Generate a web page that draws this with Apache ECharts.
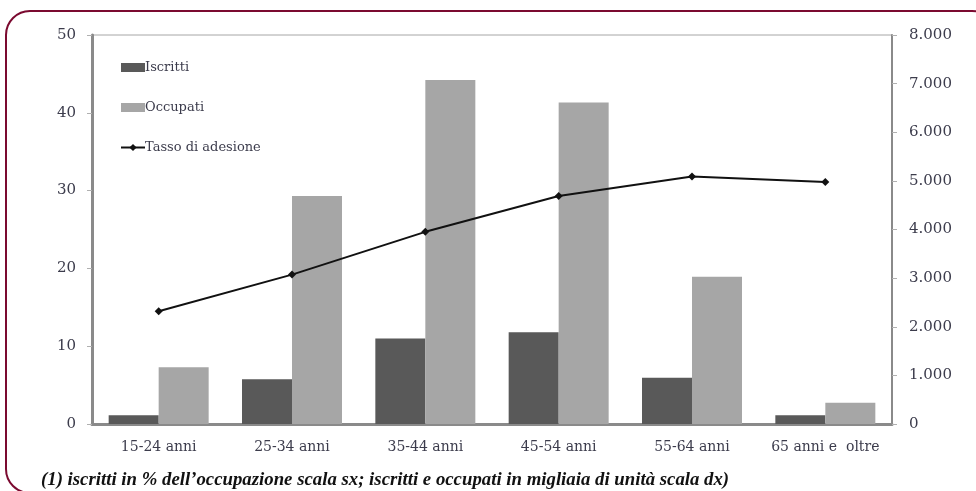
<!DOCTYPE html>
<html>
<head>
<meta charset="utf-8">
<script src="https://cdn.jsdelivr.net/npm/echarts@6/dist/echarts.min.js"></script>
<style>html,body{margin:0;padding:0;background:#fff}#c{width:976px;height:491px}</style>
</head>
<body>
<div id="c"></div>
<script>
const categories = ['15-24 anni', '25-34 anni', '35-44 anni', '45-54 anni', '55-64 anni', '65 anni e  oltre'];
const iscritti = [180, 920, 1760, 1885, 950, 180];
const occupati = [1165, 4690, 7075, 6610, 3030, 435];
const tasso = [14.5, 19.2, 24.7, 29.3, 31.8, 31.1];
const leftTicks = [0, 10, 20, 30, 40, 50];
const rightTicks = [0, 1000, 2000, 3000, 4000, 5000, 6000, 7000, 8000];
const footnote = '(1) iscritti in % dell\u2019occupazione scala sx; iscritti e occupati in migliaia di unit\u00e0 scala dx)';

const FONT = 'DejaVu Serif';
const LBL = '#3c3c4c';
const AX = '#8a8a8a';

const chart = echarts.init(document.getElementById('c'), null, {renderer: 'canvas'});
chart.setOption({
  animation: false,
  backgroundColor: '#fff',
  graphic: [
    {type: 'rect', shape: {x: 6, y: 11, width: 990, height: 482, r: 24},
     style: {fill: 'none', stroke: '#7b0a30', lineWidth: 2}, z: 0},
    {type: 'text', left: 41, top: 471,
     style: {text: footnote, font: 'italic bold 18.8px "Liberation Serif"', fill: '#111'}}
  ],
  grid: {left: 92, right: 84, top: 35, bottom: 67, show: true, borderColor: '#a6a6a6', borderWidth: 1},
  legend: {
    orient: 'vertical', left: 115, top: 56, itemGap: 27, itemWidth: 24, itemHeight: 9,
    textStyle: {fontFamily: FONT, fontSize: 13, color: LBL, padding: [0, 0, 0, -5]},
    data: [
      {name: 'Iscritti', icon: 'rect'},
      {name: 'Occupati', icon: 'rect'},
      {name: 'Tasso di adesione'}
    ]
  },
  xAxis: {
    type: 'category', data: categories,
    axisLine: {lineStyle: {color: AX, width: 3}},
    axisTick: {show: false},
    axisLabel: {fontFamily: FONT, fontSize: 14, color: LBL, margin: 16, interval: 0}
  },
  yAxis: [
    {type: 'value', min: 0, max: 50, interval: 10, position: 'left',
     axisLine: {show: true, lineStyle: {color: AX, width: 3}},
     axisTick: {show: true, length: 5, lineStyle: {color: '#b0b0b0'}},
     splitLine: {show: false},
     axisLabel: {fontFamily: FONT, fontSize: 15, color: LBL, margin: 16,
       formatter: v => leftTicks.includes(v) ? String(v) : ''}},
    {type: 'value', min: 0, max: 8000, interval: 1000, position: 'right',
     axisLine: {show: true, lineStyle: {color: AX, width: 2}},
     axisTick: {show: true, length: 5, lineStyle: {color: '#b0b0b0'}},
     splitLine: {show: false},
     axisLabel: {fontFamily: FONT, fontSize: 15, color: LBL, margin: 17,
       formatter: v => rightTicks.includes(v) ? (v === 0 ? '0' : (v / 1000) + '.000') : ''}}
  ],
  series: [
    {name: 'Iscritti', type: 'bar', yAxisIndex: 1, data: iscritti, barGap: '0%', barCategoryGap: '25%',
     itemStyle: {color: '#595959'}},
    {name: 'Occupati', type: 'bar', yAxisIndex: 1, data: occupati, barGap: '0%', barCategoryGap: '25%',
     itemStyle: {color: '#a6a6a6'}},
    {name: 'Tasso di adesione', type: 'line', yAxisIndex: 0, data: tasso,
     symbol: 'diamond', symbolSize: 8, lineStyle: {color: '#111', width: 2},
     itemStyle: {color: '#111'}, z: 5}
  ]
});
</script>
</body>
</html>
